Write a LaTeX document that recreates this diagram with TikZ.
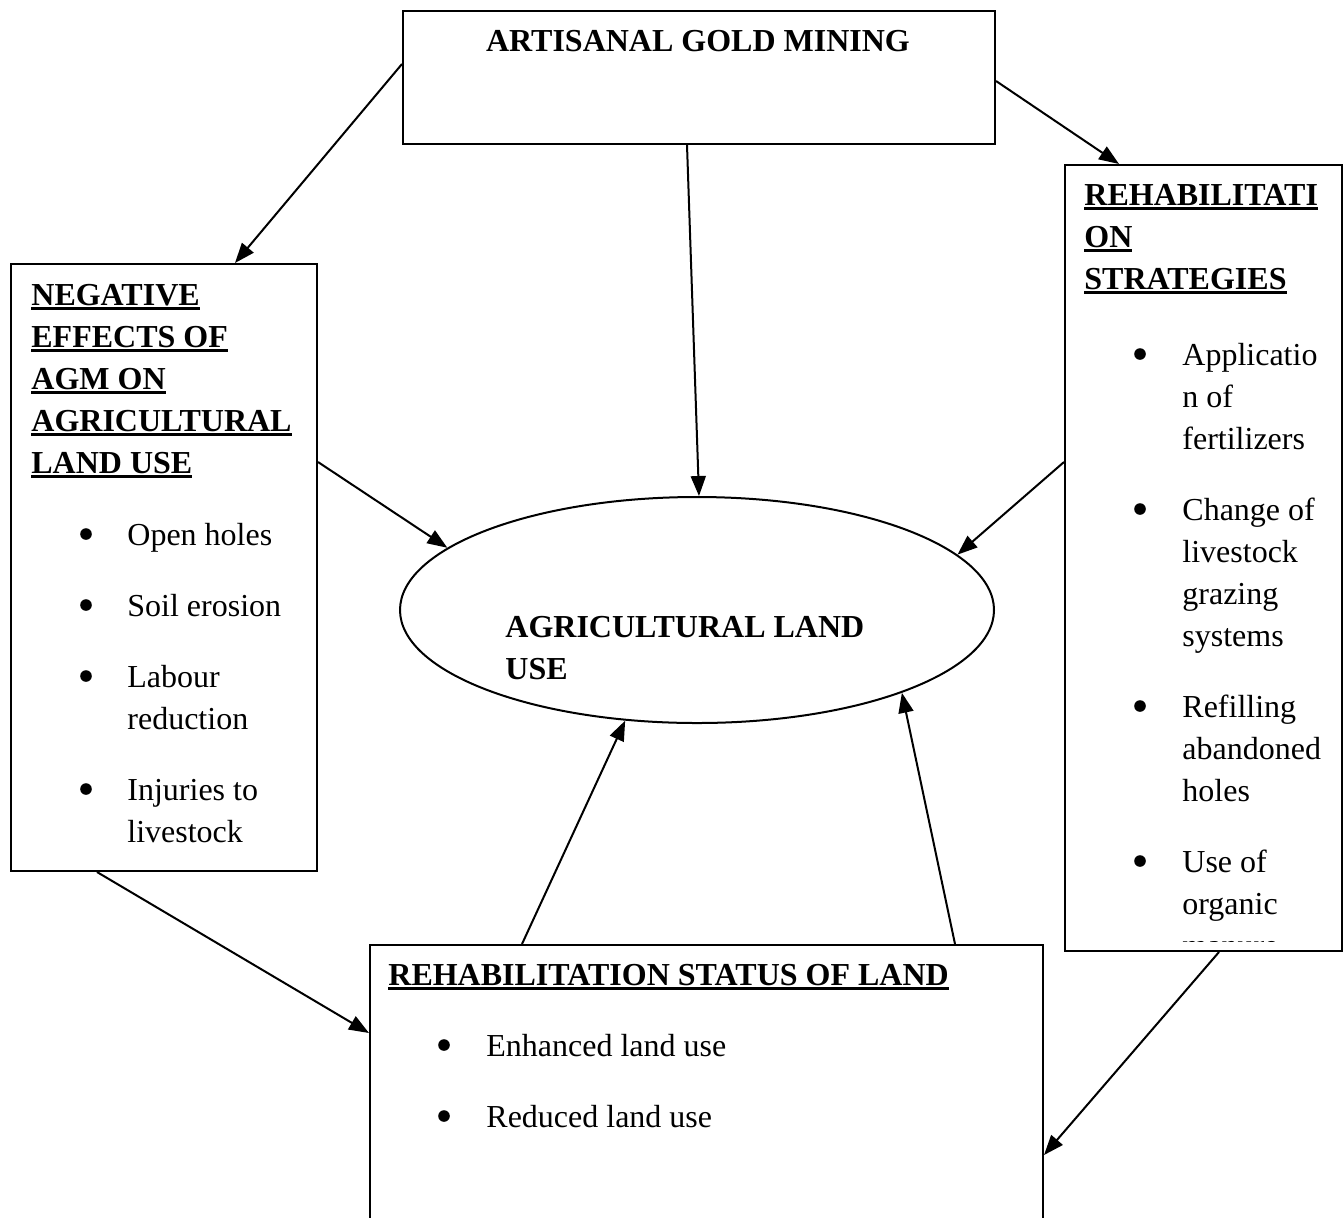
\documentclass[tikz,border=0pt]{standalone}
\usepackage{fontspec}
\setmainfont{Liberation Serif}
\usepackage{tikz}
\usetikzlibrary{arrows.meta,calc,shapes.geometric}
\newsavebox{\ulsave}
\newcommand{\ulc}[1]{\leavevmode\sbox{\ulsave}{#1}%
  \rlap{\rule[-2.6pt]{\wd\ulsave}{1.7pt}}\usebox{\ulsave}}
\tikzset{
  box/.style={draw, line width=1pt, rectangle, inner sep=0pt, anchor=north west},
  hub/.style={draw, line width=1pt, ellipse, inner sep=0pt,
              minimum width=297pt, minimum height=113pt},
  txt/.style={inner sep=0pt, anchor=base west},
  flow/.style={-{Triangle[length=10pt,width=7.5pt]}, line width=1pt}
}

\begin{document}
\begin{tikzpicture}[x=0.5pt, y=-0.5pt, font={\fontsize{16pt}{21pt}\selectfont}]
  % 1 unit = 1 px of the page, y runs down
  \clip (0,0) rectangle (1343,1217);
  % frames (sizes in pt)
  \node[box, minimum width=296pt, minimum height=66.5pt] (agm) at (402,10) {};
  \node[box, minimum width=153pt, minimum height=303.5pt] (neg) at (10,263) {};
  \node[box, minimum width=138.5pt, minimum height=393pt] (rehab) at (1064,164) {};
  \node[box, minimum width=336.5pt, minimum height=158pt] (status) at (369,944) {};
  \node[hub] (ell) at (697,610) {};

  % texts
  \node[txt, anchor=base] (agmTxt) at (698,51) {\bfseries ARTISANAL GOLD MINING};
  \node[txt] (negHead) at (31,305) {\parbox[t]{150pt}{\bfseries
    \ulc{NEGATIVE}\\\ulc{EFFECTS OF}\\\ulc{AGM ON}\\
    \ulc{AGRICULTURAL}\\\ulc{LAND USE}}};
  \node[txt] (negList) at (127,545) {\parbox[t]{95pt}{Open holes\\[14.5pt]
    Soil erosion\\[14.5pt]Labour\\reduction\\[14.5pt]Injuries to\\livestock}};
  \node[txt] (rehabHead) at (1084,205) {\parbox[t]{135pt}{\bfseries
    \ulc{REHABILITATI}\\\ulc{ON}\\\ulc{STRATEGIES}}};
  \begin{scope}
    \clip (1064,164) rectangle (1341,941);
    \node[txt] (rehabList) at (1182,365) {\parbox[t]{80pt}{Applicatio\\n of\\
      fertilizers\\[14.5pt]Change of\\livestock\\grazing\\systems\\[14.5pt]
      Refilling\\abandoned\\holes\\[14.5pt]Use of\\organic\\manure}};
  \end{scope}
  \node[txt] (ellTxt) at (505,637) {\parbox[t]{200pt}{\bfseries
    AGRICULTURAL LAND\\USE}};
  \node[txt] (statusHead) at (388,985) {\bfseries\ulc{REHABILITATION STATUS OF LAND}};
  \node[txt] (statusList) at (486,1056) {\parbox[t]{200pt}{Enhanced land use\\[14.5pt]
    Reduced land use}};

  % bullets
  \foreach \bx/\by in {86/534, 86/605, 86/676, 86/789, 1140/354, 1140/509,
                       1140/706, 1140/861, 444/1045, 444/1116}
    \fill (\bx,\by) circle (2.9pt);

  % arrows
  \draw[flow] ($(agm.west)+(0,-13.5)$) -- ($(neg.north)+(71,0)$);
  \draw[flow] ($(agm.south)+(-12,0)$) -- (ell.89);
  \draw[flow] ($(agm.east)+(0,3.5)$) -- ($(rehab.north)+(-84.5,0)$);
  \draw[flow] ($(neg.north east)+(0,199)$) -- (ell.166);
  \draw[flow] ($(rehab.north west)+(0,298)$) -- (ell.12);
  \draw[flow] ($(neg.south)+(-67,0)$) -- ($(status.north west)+(0,89)$);
  \draw[flow] ($(rehab.south)+(15.5,0)$) -- ($(status.north east)+(0,211)$);
  \draw[flow] ($(status.north)+(-184.5,0)$) -- (ell.237);
  \draw[flow] ($(status.north)+(248.5,0)$) -- (ell.338);
\end{tikzpicture}
\end{document}
